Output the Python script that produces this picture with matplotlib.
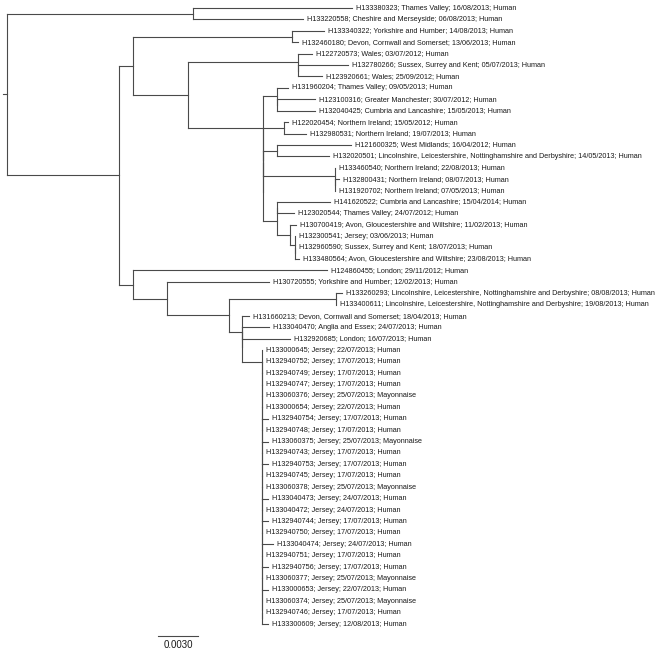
import matplotlib
matplotlib.use('Agg')
import matplotlib.pyplot as plt
from collections import defaultdict

plt.rcParams['font.family'] = ['Liberation Sans', 'DejaVu Sans']

# tips, top to bottom
leaf_labels = [
    'H133380323; Thames Valley; 16/08/2013; Human',
    'H133220558; Cheshire and Merseyside; 06/08/2013; Human',
    'H133340322; Yorkshire and Humber; 14/08/2013; Human',
    'H132460180; Devon, Cornwall and Somerset; 13/06/2013; Human',
    'H122720573; Wales; 03/07/2012; Human',
    'H132780266; Sussex, Surrey and Kent; 05/07/2013; Human',
    'H123920661; Wales; 25/09/2012; Human',
    'H131960204; Thames Valley; 09/05/2013; Human',
    'H123100316; Greater Manchester; 30/07/2012; Human',
    'H132040425; Cumbria and Lancashire; 15/05/2013; Human',
    'H122020454; Northern Ireland; 15/05/2012; Human',
    'H132980531; Northern Ireland; 19/07/2013; Human',
    'H121600325; West Midlands; 16/04/2012; Human',
    'H132020501; Lincolnshire, Leicestershire, Nottinghamshire and Derbyshire; 14/05/2013; Human',
    'H133460540; Northern Ireland; 22/08/2013; Human',
    'H132800431; Northern Ireland; 08/07/2013; Human',
    'H131920702; Northern Ireland; 07/05/2013; Human',
    'H141620522; Cumbria and Lancashire; 15/04/2014; Human',
    'H123020544; Thames Valley; 24/07/2012; Human',
    'H130700419; Avon, Gloucestershire and Wiltshire; 11/02/2013; Human',
    'H132300541; Jersey; 03/06/2013; Human',
    'H132960590; Sussex, Surrey and Kent; 18/07/2013; Human',
    'H133480564; Avon, Gloucestershire and Wiltshire; 23/08/2013; Human',
    'H124860455; London; 29/11/2012; Human',
    'H130720555; Yorkshire and Humber; 12/02/2013; Human',
    'H133260293; Lincolnshire, Leicestershire, Nottinghamshire and Derbyshire; 08/08/2013; Human',
    'H133400611; Lincolnshire, Leicestershire, Nottinghamshire and Derbyshire; 19/08/2013; Human',
    'H131660213; Devon, Cornwall and Somerset; 18/04/2013; Human',
    'H133040470; Anglia and Essex; 24/07/2013; Human',
    'H132920685; London; 16/07/2013; Human',
    'H133000645; Jersey; 22/07/2013; Human',
    'H132940752; Jersey; 17/07/2013; Human',
    'H132940749; Jersey; 17/07/2013; Human',
    'H132940747; Jersey; 17/07/2013; Human',
    'H133060376; Jersey; 25/07/2013; Mayonnaise',
    'H133000654; Jersey; 22/07/2013; Human',
    'H132940754; Jersey; 17/07/2013; Human',
    'H132940748; Jersey; 17/07/2013; Human',
    'H133060375; Jersey; 25/07/2013; Mayonnaise',
    'H132940743; Jersey; 17/07/2013; Human',
    'H132940753; Jersey; 17/07/2013; Human',
    'H132940745; Jersey; 17/07/2013; Human',
    'H133060378; Jersey; 25/07/2013; Mayonnaise',
    'H133040473; Jersey; 24/07/2013; Human',
    'H133040472; Jersey; 24/07/2013; Human',
    'H132940744; Jersey; 17/07/2013; Human',
    'H132940750; Jersey; 17/07/2013; Human',
    'H133040474; Jersey; 24/07/2013; Human',
    'H132940751; Jersey; 17/07/2013; Human',
    'H132940756; Jersey; 17/07/2013; Human',
    'H133060377; Jersey; 25/07/2013; Mayonnaise',
    'H133000653; Jersey; 22/07/2013; Human',
    'H133060374; Jersey; 25/07/2013; Mayonnaise',
    'H132940746; Jersey; 17/07/2013; Human',
    'H133300609; Jersey; 12/08/2013; Human',
]

leaf_parents = [
    'n1', 'n1', 'n4', 'n4', 'n6', 'n6a', 'n6a', 'n8', 'n8a', 'n8a',
    'n9', 'n9', 'n10', 'n10', 'n11', 'n11a', 'n11a', 'n12a', 'n12a', 'n13',
    'n13a', 'n13b', 'n13b', 'n14', 'n15', 'n17', 'n17', 'n18', 'n18b', 'n18b',
    'j01', 'j02', 'j03', 'j04', 'j05', 'j06', 'j07', 'j08', 'j09', 'j10',
    'j11', 'j12', 'j13', 'j14', 'j15', 'j16', 'j17', 'j18', 'j19', 'j20',
    'j21', 'j22', 'j23', 'j24', 'j24',
]

leaf_lengths = [
    0.0119, 0.00825, 0.0024, 0.00045, 0.001, 0.00375, 0.0018, 0.00083, 0.00285, 0.00285,
    0.00026, 0.0016, 0.00555, 0.0039, 0.0, 0.0003, 0.0, 0.004, 0.0013, 0.0004,
    0.0, 0.0, 0.0003, 0.01455, 0.00765, 0.0005, 0.0, 0.0005, 0.002, 0.0036,
    0.0, 0.0, 0.0, 0.0, 0.0, 0.0, 0.0004, 0.0, 0.0004, 0.0,
    0.0004, 0.0, 0.0, 0.0004, 0.0, 0.0004, 0.0, 0.0008, 0.0, 0.0004,
    0.0, 0.0004, 0.0, 0.0, 0.0004,
]

# internal nodes (zero lengths resolve polytomies)
node_names = [
    'n1', 'n2', 'n3', 'n4', 'n5', 'n6', 'n6a', 'n7', 'n7a', 'n7b', 'n7c',
    'n8', 'n8a', 'n9', 'n10', 'n11', 'n11a', 'n12', 'n12a', 'n13', 'n13a', 'n13b',
    'n14', 'n15', 'n16', 'n17', 'n18', 'n18a', 'n18b',
    'j01', 'j02', 'j03', 'j04', 'j05', 'j06', 'j07', 'j08', 'j09', 'j10', 'j11', 'j12',
    'j13', 'j14', 'j15', 'j16', 'j17', 'j18', 'j19', 'j20', 'j21', 'j22', 'j23', 'j24',
]
node_parents = [
    'root', 'root', 'n2', 'n3', 'n3', 'n5', 'n6', 'n5', 'n7', 'n7a', 'n7b',
    'n7', 'n8', 'n7a', 'n7c', 'n7c', 'n11', 'n7b', 'n12', 'n12', 'n13', 'n13a',
    'n2', 'n14', 'n15', 'n16', 'n16', 'n18', 'n18a',
    'n18a', 'j01', 'j02', 'j03', 'j04', 'j05', 'j06', 'j07', 'j08', 'j09', 'j10', 'j11',
    'j12', 'j13', 'j14', 'j15', 'j16', 'j17', 'j18', 'j19', 'j20', 'j21', 'j22', 'j23',
]
node_lengths = [
    0.01395, 0.0084, 0.00105, 0.0119, 0.0041, 0.0083, 0.0, 0.00566, 0.0, 0.0, 0.0,
    0.00105, 0.0, 0.0016, 0.00105, 0.0054, 0.0, 0.00105, 0.0, 0.001, 0.00034, 0.0,
    0.00105, 0.00255, 0.00465, 0.008, 0.001, 0.0, 0.0,
    0.0015, 0.0, 0.0, 0.0, 0.0, 0.0, 0.0, 0.0, 0.0, 0.0, 0.0, 0.0,
    0.0, 0.0, 0.0, 0.0, 0.0, 0.0, 0.0, 0.0, 0.0, 0.0, 0.0, 0.0,
]

scale_length = 0.003
scale_label = '0.0030'


def main():
    children = defaultdict(list)
    blen = {'root': 0.0}
    for name, par, ln in zip(node_names, node_parents, node_lengths):
        children[par].append(name)
        blen[name] = ln
    for i, (par, ln) in enumerate(zip(leaf_parents, leaf_lengths)):
        children[par].append(i)
        blen[i] = ln

    first = {}
    def first_leaf(n):
        if isinstance(n, int):
            return n
        if n not in first:
            first[n] = min(first_leaf(c) for c in children[n])
        return first[n]

    xs, ys = {}, {}
    def layout(n, x0):
        xs[n] = x0 + blen[n]
        if isinstance(n, int):
            ys[n] = n
            return
        kids = sorted(children[n], key=first_leaf)
        children[n] = kids
        for c in kids:
            layout(c, xs[n])
        ys[n] = (ys[kids[0]] + ys[kids[-1]]) / 2
    layout('root', 0.0)

    # 1 px in tree units (scale bar is 40 px)
    u = scale_length / 40
    fig = plt.figure(figsize=(6.58, 6.5), dpi=100)
    ax = fig.add_axes([0, 0, 1, 1])
    ax.set_xlim(-7 * u, 651 * u)
    ax.set_ylim((650 - 8) / 11.41, -8 / 11.41)
    ax.axis('off')

    lc = '#4a4a4a'
    lw = 0.8
    for n in xs:
        if isinstance(n, int):
            continue
        kids = children[n]
        ax.plot([xs[n], xs[n]], [ys[kids[0]], ys[kids[-1]]], color=lc, lw=lw,
                solid_capstyle='projecting')
        for c in kids:
            if blen[c] > 0:
                ax.plot([xs[n], xs[c]], [ys[c], ys[c]], color=lc, lw=lw,
                        solid_capstyle='projecting')
    # root stub
    ax.plot([-4 * u, 0], [ys['root'], ys['root']], color=lc, lw=lw)

    for i, lab in enumerate(leaf_labels):
        ax.annotate(lab, (xs[i], ys[i]), xytext=(2.9, 0), textcoords='offset points',
                    va='center', ha='left', fontsize=5.2, color='#1a1a1a')

    # scale bar
    sx = 151 * u
    sy = (636 - 8) / 11.41
    ax.plot([sx, sx + scale_length], [sy, sy], color=lc, lw=lw)
    ax.text(sx + scale_length / 2, (645 - 8) / 11.41, scale_label, ha='center',
            va='center', fontsize=7, color='#1a1a1a')

    fig.savefig('out.png', dpi=100)


if __name__ == "__main__":
    main()
